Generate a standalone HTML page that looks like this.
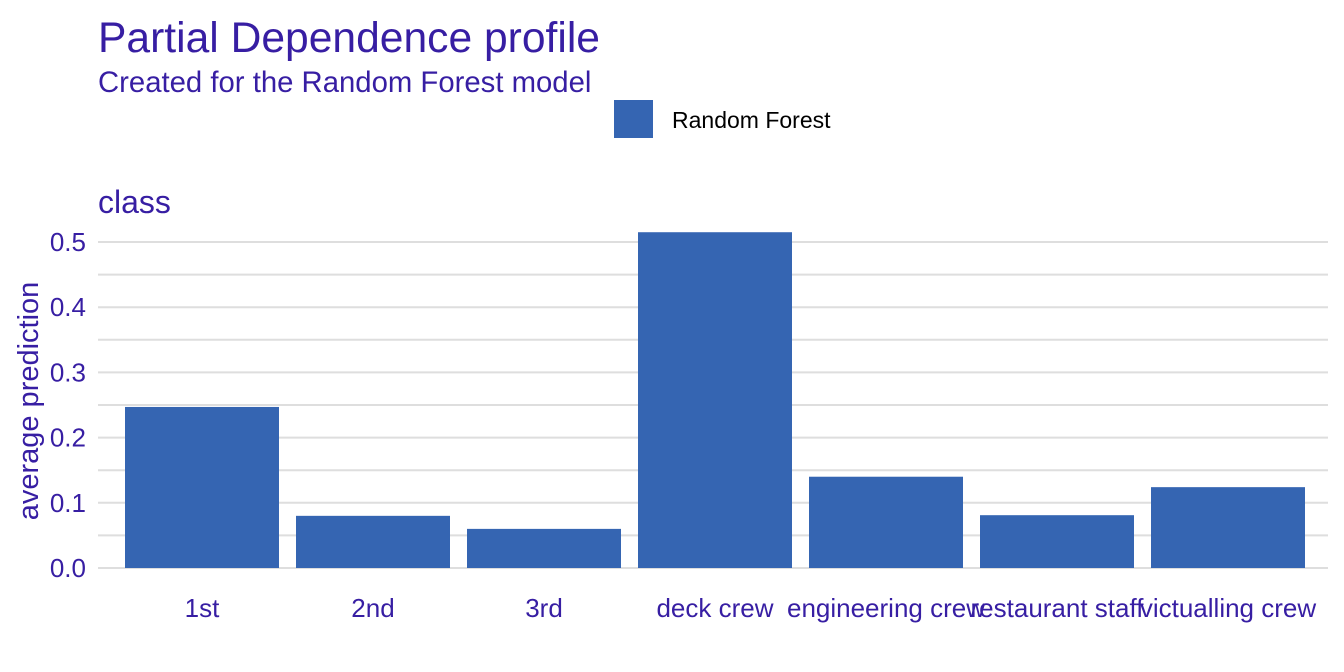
<!DOCTYPE html>
<html><head><meta charset="utf-8"><style>
html,body{margin:0;padding:0;background:#fff;}
svg{display:block;font-family:"Liberation Sans",Arial,sans-serif;}
</style></head><body>
<svg id="chart" width="1344" height="672" viewBox="0 0 1344 672">
<text x="98" y="52" font-size="42.6" fill="#371ea3">Partial Dependence profile</text>
<text x="98" y="92" font-size="29.3" fill="#371ea3">Created for the Random Forest model</text>
<g>
<rect x="614" y="100" width="39" height="38" fill="#3565b2"></rect>
<text x="672" y="128" font-size="23" fill="#000">Random Forest</text>
</g>
<text x="98" y="213" font-size="32" fill="#371ea3">class</text>
<text transform="translate(38,401) rotate(-90)" text-anchor="middle" font-size="29" fill="#371ea3">average prediction</text>
<g id="grid"></g><g id="bars"></g><g id="yticks"></g><g id="xticks"></g>
</svg>
<script>
const categories = ["1st","2nd","3rd","deck crew","engineering crew","restaurant staff","victualling crew"];
const values = [0.247,0.080,0.060,0.515,0.140,0.081,0.124];
const yTicks = [0,0.1,0.2,0.3,0.4,0.5];
const yTickLabels = ["0.0","0.1","0.2","0.3","0.4","0.5"];
const NS="http://www.w3.org/2000/svg";
const y0=568, pxPerUnit=652;
function yScale(v){return y0 - v*pxPerUnit;}
const bandStart=116.5, step=171, barW=154;
function xCenter(i){return bandStart+step*i+step/2;}
const grid=document.getElementById('grid');
for(let k=0;k<=11;k++){
  const v=k*0.05;
  if(yScale(v)<225) break;
  const l=document.createElementNS(NS,'line');
  l.setAttribute('x1',98);l.setAttribute('x2',1328);
  l.setAttribute('y1',yScale(v));l.setAttribute('y2',yScale(v));
  l.setAttribute('stroke','#dedede');l.setAttribute('stroke-width',2);
  
  
  grid.appendChild(l);
}
const bars=document.getElementById('bars');
categories.forEach((c,i)=>{
  const r=document.createElementNS(NS,'rect');
  r.setAttribute('x',xCenter(i)-barW/2);r.setAttribute('width',barW);
  r.setAttribute('y',yScale(values[i]));r.setAttribute('height',y0-yScale(values[i]));
  r.setAttribute('fill','#3565b2');
  
  
  bars.appendChild(r);
  const t=document.createElementNS(NS,'text');
  t.setAttribute('x',xCenter(i));t.setAttribute('y',617);
  t.setAttribute('text-anchor','middle');t.setAttribute('font-size','26');t.setAttribute('fill','#371ea3');
  t.textContent=c;
  
  
  document.getElementById('xticks').appendChild(t);
});
yTicks.forEach((v,i)=>{
  const t=document.createElementNS(NS,'text');
  t.setAttribute('x',86);t.setAttribute('y',yScale(v)+9);
  t.setAttribute('text-anchor','end');t.setAttribute('font-size','26');t.setAttribute('fill','#371ea3');
  t.textContent=yTickLabels[i];
  
  
  document.getElementById('yticks').appendChild(t);
});
</script>
</body></html>
